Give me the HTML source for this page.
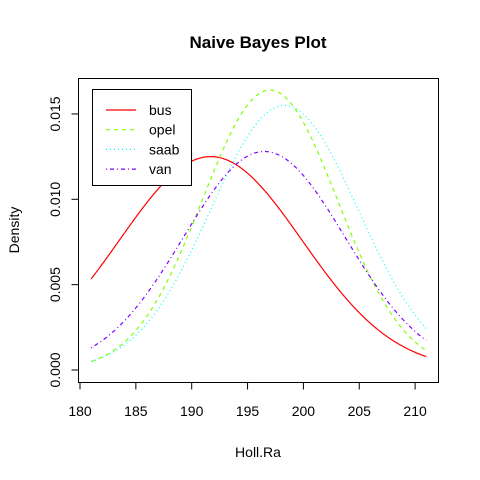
<!DOCTYPE html>
<html><head><meta charset="utf-8"><style>body{margin:0;background:#fff}svg{display:block;font-family:"Liberation Sans",Arial,sans-serif}</style></head>
<body>
<svg width="480" height="480">
<text x="258" y="48" text-anchor="middle" font-weight="bold" font-size="17">Naive Bayes Plot</text>
<rect x="78.5" y="78.5" width="360" height="304" fill="none" stroke="#000"/>
<g id="xaxis"></g>
<g id="yaxis"></g>
<g id="series"></g>
<text x="258" y="457" text-anchor="middle" font-size="14">Holl.Ra</text>
<text transform="translate(19,230) rotate(-90)" text-anchor="middle" font-size="14">Density</text>
<g>
<rect x="92.5" y="89.5" width="99" height="96" fill="#fff" stroke="#000"/>
<g id="legend"></g>
</g>
</svg>
<script>
const classes=["bus","opel","saab","van"];
const means=[191.7,197.0,198.3,196.5];
const sds=[8.2,6.06,6.6,7.25];
const peaks=[0.0125,0.0164,0.0155,0.0128];
const xTicks=[180,185,190,195,200,205,210];
const yTicks=[0,0.005,0.010,0.015];
const yTickLabels=["0.000","0.005","0.010","0.015"];
const xMin=181,xMax=211;
const colors=["#ff0000","#80ff00","#00ffff","#8000ff"];
const dashes=["","4,4","1,3","1,3,4,3"];
const NS="http://www.w3.org/2000/svg";
const sx=v=>80+(v-180)*11.17;
const sy=v=>370-v*17070;
function mk(t,a,p){const e=document.createElementNS(NS,t);for(const k in a)e.setAttribute(k,a[k]);p.appendChild(e);return e;}
const xa=document.getElementById('xaxis');
mk('line',{x1:sx(xTicks[0]),x2:sx(xTicks[xTicks.length-1]),y1:382.5,y2:382.5,stroke:'#000'},xa);
xTicks.forEach(t=>{const l=mk('line',{x1:sx(t),x2:sx(t),y1:382.5,y2:389.5,stroke:'#000'},xa);


const tx=mk('text',{x:sx(t),y:416,'text-anchor':'middle','font-size':14},xa);tx.textContent=t;

});
const ya=document.getElementById('yaxis');
mk('line',{x1:78.5,x2:78.5,y1:sy(yTicks[0]),y2:sy(yTicks[yTicks.length-1]),stroke:'#000'},ya);
yTicks.forEach((t,i)=>{const y=sy(t);const l=mk('line',{x1:71.5,x2:78.5,y1:y,y2:y,stroke:'#000'},ya);


const tx=mk('text',{transform:`translate(60,${y}) rotate(-90)`,'text-anchor':'middle','font-size':14},ya);tx.textContent=yTickLabels[i];

});
const sg=document.getElementById('series');
classes.forEach((c,i)=>{let pts=[];for(let x=xMin;x<=xMax+1e-9;x+=0.1){const d=peaks[i]*Math.exp(-((x-means[i])**2)/(2*sds[i]*sds[i]));pts.push(sx(x).toFixed(2)+','+sy(d).toFixed(2));}
const p=mk('polyline',{points:pts.join(' '),fill:'none',stroke:colors[i],'stroke-width':1.2},sg);
if(dashes[i])p.setAttribute('stroke-dasharray',dashes[i]);

});
const lg=document.getElementById('legend');
classes.forEach((c,i)=>{const y=110+i*19.7;const l=mk('line',{x1:106,x2:136,y1:y,y2:y,stroke:colors[i],'stroke-width':1.2},lg);
if(dashes[i])l.setAttribute('stroke-dasharray',dashes[i]);


const t=mk('text',{x:149,y:y+5,'font-size':14},lg);t.textContent=c;

});
</script>
</body></html>
